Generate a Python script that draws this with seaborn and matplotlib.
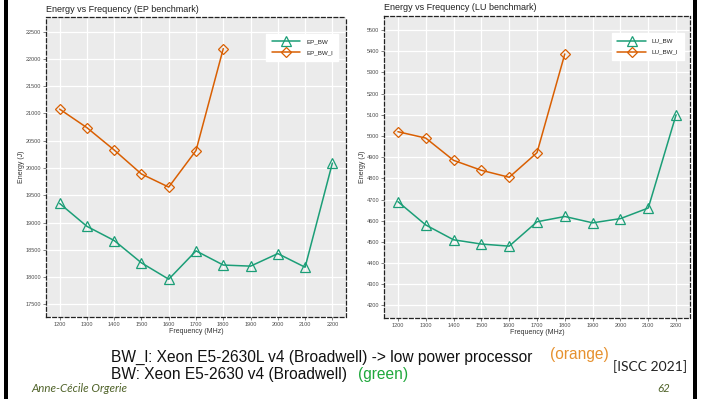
import numpy as np
import pandas as pd
import matplotlib
matplotlib.use("Agg")
import matplotlib.pyplot as plt
import seaborn as sns
from matplotlib.patches import Rectangle

# ---- data ----
freq = [1200, 1300, 1400, 1500, 1600, 1700, 1800, 1900, 2000, 2100, 2200]
freq_l = [1200, 1300, 1400, 1500, 1600, 1700, 1800]
ep_bw = [19350, 18930, 18670, 18260, 17960, 18480, 18220, 18200, 18430, 18180, 20090]
ep_bw_l = [21080, 20740, 20330, 19890, 19650, 20320, 22190]
lu_bw = [4690, 4580, 4510, 4490, 4480, 4595, 4620, 4590, 4610, 4660, 5100]
lu_bw_l = [5020, 4990, 4885, 4838, 4805, 4921, 5387]
x_ticks = [1200, 1300, 1400, 1500, 1600, 1700, 1800, 1900, 2000, 2100, 2200]
ep_yticks = [17500, 18000, 18500, 19000, 19500, 20000, 20500, 21000, 21500, 22000, 22500]
lu_yticks = [4200, 4300, 4400, 4500, 4600, 4700, 4800, 4900, 5000, 5100, 5200, 5300, 5400, 5500]

GREEN = "#1b9e77"
ORANGE = "#d95f02"

sns.set_theme(style="darkgrid")
plt.rcParams["font.family"] = ["Liberation Sans", "DejaVu Sans"]

W, H = 701, 399
fig = plt.figure(figsize=(W / 100, H / 100), dpi=100)


def frac_rect(x0, y0, x1, y1):
    return [x0 / W, 1 - y1 / H, (x1 - x0) / W, (y1 - y0) / H]


def panel(rect, xs_a, ya, xs_b, yb, name_a, name_b, ylim, yticks, title, title_xy, leg_anchor):
    ax = fig.add_axes(rect)
    ax.set_facecolor("#EBEBEB")
    df_a = pd.DataFrame({"Frequency": xs_a, "Energy": ya})
    df_b = pd.DataFrame({"Frequency": xs_b, "Energy": yb})
    sns.lineplot(data=df_a, x="Frequency", y="Energy", ax=ax, color=GREEN, lw=1.1,
                 marker="^", markersize=6.5, markerfacecolor="none", markeredgecolor=GREEN,
                 markeredgewidth=0.9, label=name_a)
    sns.lineplot(data=df_b, x="Frequency", y="Energy", ax=ax, color=ORANGE, lw=1.1,
                 marker="D", markersize=5, markerfacecolor="none", markeredgecolor=ORANGE,
                 markeredgewidth=0.9, label=name_b)
    ax.set_xlim(1150, 2250)
    ax.set_ylim(*ylim)
    ax.set_xticks(x_ticks)
    ax.set_xticklabels([str(v) for v in x_ticks])
    ax.set_yticks(yticks)
    ax.set_yticklabels([str(v) for v in yticks])
    ax.grid(True, color="white", linewidth=0.9)
    ax.tick_params(axis="both", labelsize=4, colors="#4d4d4d", length=2, width=0.5,
                   pad=1.5, left=True, bottom=True)
    ax.set_xlabel("Frequency (MHz)", fontsize=5, color="#333333", labelpad=1)
    ax.set_ylabel("Energy (J)", fontsize=5, color="#333333", labelpad=0.5)
    for s in ax.spines.values():
        s.set_visible(True)
        s.set_color("#222222")
        s.set_linestyle((0, (3, 2)))
        s.set_linewidth(0.9)
    leg = ax.legend(loc="upper right", bbox_to_anchor=leg_anchor, fontsize=4.5,
                    frameon=True, fancybox=False, handlelength=4.5, labelspacing=0.9,
                    borderpad=0.9, handletextpad=1.0)
    leg.get_frame().set_facecolor("white")
    leg.get_frame().set_edgecolor("white")
    leg.get_frame().set_alpha(1)
    for t in leg.get_texts():
        t.set_color("#222222")
    fig.text(title_xy[0] / W, 1 - title_xy[1] / H, title, fontsize=6.5, color="#222222",
             ha="left", va="center")
    return ax


panel(frac_rect(46, 17, 346, 317), freq, ep_bw, freq_l, ep_bw_l, "EP_BW", "EP_BW_l",
      (17267, 22770), ep_yticks, "Energy vs Frequency (EP benchmark)", (46, 9), (0.985, 0.955))
panel(frac_rect(384, 16, 690, 318), freq, lu_bw, freq_l, lu_bw_l, "LU_BW", "LU_BW_l",
      (4141, 5566), lu_yticks, "Energy vs Frequency (LU benchmark)", (384, 8), (0.99, 0.955))

# slide frame bars
fig.add_artist(Rectangle((4 / W, 0), 4 / W, 1, transform=fig.transFigure, color="black", lw=0))
fig.add_artist(Rectangle((693 / W, 0), 4 / W, 1, transform=fig.transFigure, color="black", lw=0))

# slide texts
body = ["Liberation Sans", "DejaVu Sans"]
fig.text(111 / W, 1 - 357 / H, "BW_l: Xeon E5-2630L v4 (Broadwell) -> low power processor",
         fontsize=11.2, family=body, color="#111111", ha="left", va="center")
fig.text(550 / W, 1 - 355 / H, "(orange)", fontsize=11.2, family=body, color="#E6912F",
         ha="left", va="center")
fig.text(111 / W, 1 - 375 / H, "BW: Xeon E5-2630 v4 (Broadwell)", fontsize=11.2, family=body,
         color="#111111", ha="left", va="center")
fig.text(358 / W, 1 - 375 / H, "(green)", fontsize=11.2, family=body, color="#1FA83C",
         ha="left", va="center")
fig.text(613 / W, 1 - 367 / H, "[ISCC 2021]", fontsize=10, family=["Lato", "DejaVu Sans"],
         color="#222222", ha="left", va="center")
fig.text(31 / W, 1 - 388 / H, "Anne-Cécile Orgerie", fontsize=8.3, family=["Lato", "DejaVu Sans"],
         style="italic", color="#4F6228", ha="left", va="center")
fig.text(670 / W, 1 - 388 / H, "62", fontsize=8.3, family=["Lato", "DejaVu Sans"],
         style="italic", color="#4F6228", ha="right", va="center")

fig.savefig("out.png", dpi=100)
